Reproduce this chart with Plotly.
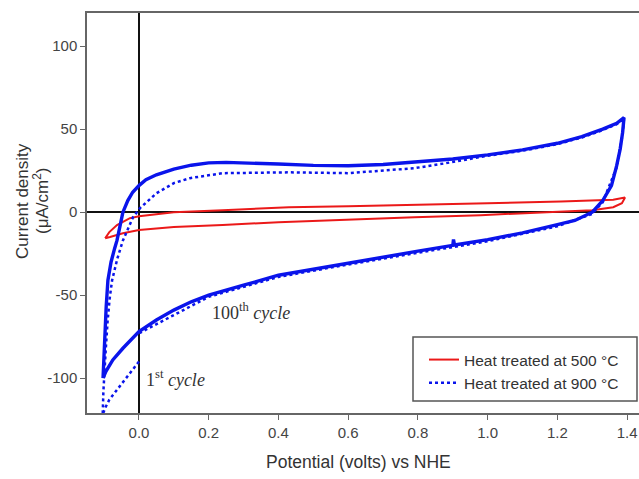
import plotly.graph_objects as go

# ---- Data ----
# 900 °C, 100th cycle (solid-looking blue loop)
b100_x = [-0.103, -0.101, -0.098, -0.094, -0.089, -0.080, -0.070, -0.063, -0.055, -0.046,
          -0.032, -0.018, 0.0, 0.02, 0.05, 0.10, 0.15, 0.20, 0.25, 0.30, 0.40, 0.50, 0.60,
          0.70, 0.80, 0.90, 1.00, 1.10, 1.20, 1.27, 1.33, 1.37, 1.391,
          1.387, 1.380, 1.370, 1.355, 1.330, 1.300, 1.25, 1.20, 1.10, 1.00, 0.905, 0.902,
          0.90, 0.80, 0.70, 0.60, 0.50, 0.40, 0.30, 0.20, 0.15, 0.10, 0.05, 0.0, -0.046,
          -0.075, -0.095, -0.103]
b100_y = [-100, -88, -72, -57, -41, -30, -22, -17, -9, 0,
          7, 12, 16, 19.5, 22.5, 26, 28.3, 29.7, 30, 29.8, 29, 28.2, 28,
          28.7, 30.2, 32, 34.5, 37.5, 41.5, 45.5, 50, 53.5, 57,
          48, 38, 28, 16, 7, 0, -5, -7.5, -12.5, -16.5, -19.8, -16.5,
          -20, -23.5, -27, -30.5, -34, -38, -44, -50, -54, -59, -65, -72, -82,
          -89, -96, -100]

# 900 °C, 1st cycle (dotted blue)
b1_x = [0.0, -0.03, -0.06, -0.085, -0.097, -0.104, -0.102, -0.099, -0.095, -0.090,
        -0.084, -0.077, -0.062, -0.046, -0.030, -0.017, 0.003, 0.05, 0.10, 0.146, 0.24,
        0.34, 0.43, 0.60, 0.79, 0.88, 1.00, 1.10, 1.20, 1.27, 1.33, 1.37, 1.391,
        1.387, 1.370, 1.330, 1.300, 1.20, 1.00, 0.80, 0.60, 0.40, 0.20, 0.0]
b1_y = [-90, -98, -106, -113, -118, -122, -108, -95, -82, -66,
        -52, -41, -28, -17, -9, -3, 2.4, 11.4, 17.5, 20.5, 23.5,
        24, 24, 23.5, 26.5, 29.5, 34, 37, 41, 45, 49.5, 53, 56.5,
        47, 27, 6, -1, -8.5, -17.5, -24.5, -31.5, -39, -51, -73]

# 500 °C (red loop)
r_x = [-0.097, -0.085, -0.063, -0.040, -0.026, 0.0, 0.05, 0.10, 0.24, 0.43, 0.60,
       0.79, 1.00, 1.21, 1.30, 1.36, 1.394,
       1.385, 1.36, 1.30, 1.17, 0.98, 0.79, 0.60, 0.40, 0.24, 0.10, 0.0, -0.046,
       -0.083, -0.097]
r_y = [-15.7, -12, -7.8, -5, -3.6, -2.4, -1, 0, 1.2, 3, 3.5,
       4.2, 5.4, 6.5, 7, 7.5, 8.8,
       5.4, 3, 1.2, 0, -1.8, -3, -4.5, -6, -7.8, -9, -10.8, -12.7,
       -15, -15.7]

x_ticks = [0.0, 0.2, 0.4, 0.6, 0.8, 1.0, 1.2, 1.4]
x_tick_text = ["0.0", "0.2", "0.4", "0.6", "0.8", "1.0", "1.2", "1.4"]
y_ticks = [-100, -50, 0, 50, 100]
y_tick_text = ["-100", "-50", "0", "50", "100"]

legend_500 = "Heat treated at 500 °C"
legend_900 = "Heat treated at 900 °C"

BLUE = "rgb(10,20,235)"
RED = "rgb(235,25,25)"
FONT = "Liberation Sans, Arial, sans-serif"
SERIF = "Liberation Serif, Times New Roman, serif"

# plot-area geometry in pixels
L, R, T, B = 87, 639, 13, 413
PW, PH = R - L, B - T


def px(xp):
    return (xp - L) / PW


def py(yp):
    return (B - yp) / PH


fig = go.Figure()
fig.add_trace(go.Scatter(x=r_x, y=r_y, mode="lines", name=legend_500,
                         line=dict(color=RED, width=2)))
fig.add_trace(go.Scatter(x=b1_x, y=b1_y, mode="lines", name=legend_900,
                         line=dict(color=BLUE, width=2.5, dash="dot")))
fig.add_trace(go.Scatter(x=b100_x, y=b100_y, mode="lines", showlegend=False,
                         line=dict(color=BLUE, width=3.4)))

axis_common = dict(showgrid=False, ticks="outside", ticklen=5, tickwidth=1,
                   tickcolor="#666", showline=True, linecolor="#666", linewidth=1.5,
                   zeroline=True, zerolinecolor="#111", zerolinewidth=2,
                   tickfont=dict(family=FONT, size=15, color="#444"))

fig.update_xaxes(range=[-0.149, 1.434], tickvals=x_ticks, ticktext=x_tick_text,
                 mirror=True, **axis_common)
fig.update_yaxes(range=[-121, 120], tickvals=y_ticks, ticktext=y_tick_text,
                 mirror=False, **axis_common)

annotations = [
    dict(text="Potential (volts) vs NHE", xref="paper", yref="paper",
         x=px(358), y=py(462), xanchor="center", yanchor="middle",
         showarrow=False, font=dict(family=FONT, size=17.5, color="#333")),
    dict(text="Current density", xref="paper", yref="paper",
         x=px(22), y=py(201), xanchor="center", yanchor="middle",
         textangle=-90, showarrow=False, font=dict(family=FONT, size=17, color="#333")),
    dict(text="(μA/cm<sup>2</sup>)", xref="paper", yref="paper",
         x=px(41), y=py(201), xanchor="center", yanchor="middle",
         textangle=-90, showarrow=False, font=dict(family=FONT, size=17, color="#333")),
    dict(text="100<sup>th</sup> <i>cycle</i>", x=0.205, y=-60, xanchor="left",
         yanchor="middle", showarrow=False,
         font=dict(family=SERIF, size=18, color="#333")),
    dict(text="1<sup>st</sup> <i>cycle</i>", x=0.015, y=-100, xanchor="left",
         yanchor="middle", showarrow=False,
         font=dict(family=SERIF, size=18, color="#333")),
]

shapes = [
    dict(type="rect", xref="paper", yref="paper", x0=px(413), x1=px(637),
         y0=py(401), y1=py(337), line=dict(color="#555", width=1.5),
         fillcolor="white", layer="below"),
]

fig.update_layout(
    width=639, height=479,
    margin=dict(l=L, r=639 - R, t=T, b=479 - B),
    paper_bgcolor="white", plot_bgcolor="white",
    annotations=annotations,
    shapes=shapes,
    legend=dict(x=px(424), y=py(343), xanchor="left", yanchor="top",
                borderwidth=0, bgcolor="rgba(0,0,0,0)",
                font=dict(family=FONT, size=15.5, color="#333"),
                traceorder="normal"),
    showlegend=True,
)

fig.write_html("out.html", config={"displayModeBar": False},
               post_script="document.body.style.margin='0';document.body.style.padding='0';")
